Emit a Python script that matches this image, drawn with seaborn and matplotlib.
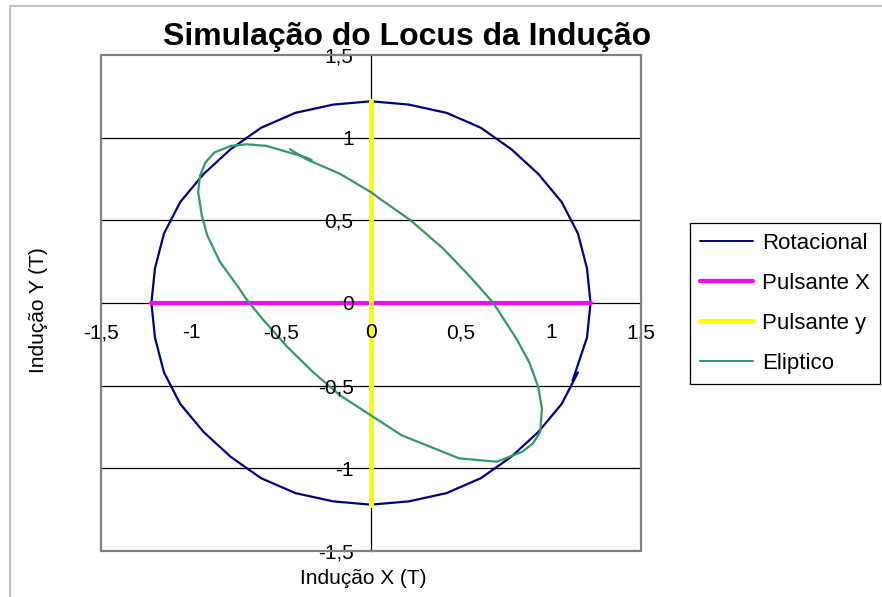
import matplotlib
matplotlib.use("Agg")
import matplotlib.pyplot as plt
import seaborn as sns
from matplotlib.ticker import FuncFormatter
from matplotlib.lines import Line2D
from matplotlib.patches import Rectangle

# Rotacional: circular locus (~10 degree steps)
rot_x = [1.12, 1.20, 1.22, 1.20, 1.15, 1.06, 0.93, 0.78, 0.61, 0.42, 0.21, 0.00,
         -0.21, -0.42, -0.61, -0.78, -0.93, -1.06, -1.15, -1.20, -1.22, -1.20, -1.15,
         -1.06, -0.93, -0.78, -0.61, -0.42, -0.21, 0.00, 0.21, 0.42, 0.61, 0.78,
         0.93, 1.06, 1.15]
rot_y = [-0.47, -0.21, 0.00, 0.21, 0.42, 0.61, 0.78, 0.93, 1.06, 1.15, 1.20, 1.22,
         1.20, 1.15, 1.06, 0.93, 0.78, 0.61, 0.42, 0.21, 0.00, -0.21, -0.42,
         -0.61, -0.78, -0.93, -1.06, -1.15, -1.20, -1.22, -1.20, -1.15, -1.06, -0.93,
         -0.78, -0.61, -0.42]

# Pulsante X / Pulsante y
pulx_x = [-1.22, 1.22]
pulx_y = [0.0, 0.0]
puly_x = [0.0, 0.0]
puly_y = [-1.22, 1.22]

# Eliptico
eli_x = [-0.45, -0.36, -0.17, 0.00, 0.05, 0.22, 0.40, 0.55, 0.68, 0.81, 0.88, 0.93,
         0.95, 0.94, 0.90, 0.84, 0.77, 0.70, 0.49, 0.33, 0.17, 0.00, -0.17,
         -0.32, -0.47, -0.60, -0.69, -0.74, -0.84, -0.91, -0.94, -0.96, -0.95, -0.92,
         -0.87, -0.78, -0.69, -0.58, -0.36, -0.33]
eli_y = [0.93, 0.87, 0.78, 0.67, 0.63, 0.50, 0.33, 0.16, 0.00, -0.22, -0.36, -0.51,
         -0.64, -0.78, -0.85, -0.90, -0.93, -0.96, -0.94, -0.87, -0.80, -0.68,
         -0.56, -0.42, -0.26, -0.10, 0.02, 0.10, 0.25, 0.41, 0.53, 0.67, 0.77, 0.85,
         0.91, 0.95, 0.96, 0.95, 0.88, 0.865]

ticks = [-1.5, -1.0, -0.5, 0.0, 0.5, 1.0, 1.5]
grid_y = [-1.0, -0.5, 0.5, 1.0]

sns.set_style("white")
plt.rcParams['font.family'] = ['Liberation Sans', 'DejaVu Sans']
plt.rcParams['text.color'] = 'black'

fig = plt.figure(figsize=(8.82, 5.97), dpi=100)
ax = fig.add_axes([0.1145, 0.0771, 0.6122, 0.8308])

for g in grid_y:
    ax.axhline(g, color='black', lw=0.9, zorder=1)

sns.lineplot(x=rot_x, y=rot_y, sort=False, estimator=None, color='#000080',
             lw=1.6, ax=ax, zorder=3)
sns.lineplot(x=pulx_x, y=pulx_y, sort=False, estimator=None, color='#FF00FF',
             lw=3.0, ax=ax, zorder=3)
sns.lineplot(x=puly_x, y=puly_y, sort=False, estimator=None, color='#FFFF00',
             lw=3.6, ax=ax, zorder=3)
sns.lineplot(x=eli_x, y=eli_y, sort=False, estimator=None, color='#339966',
             lw=1.6, ax=ax, zorder=3)

ax.set_xlim(-1.5, 1.5)
ax.set_ylim(-1.5, 1.5)
ax.set_xticks(ticks)
ax.set_yticks(ticks)
fmt = FuncFormatter(lambda v, p: f"{v:g}".replace('.', ','))
ax.xaxis.set_major_formatter(fmt)
ax.yaxis.set_major_formatter(fmt)
ax.set_xlabel("")
ax.set_ylabel("")

# axes crossing at zero
ax.spines['left'].set_position(('data', 0))
ax.spines['bottom'].set_position(('data', 0))
for s in ['left', 'bottom']:
    ax.spines[s].set_color('black')
    ax.spines[s].set_linewidth(0.9)
    ax.spines[s].set_zorder(2)
ax.spines['top'].set_visible(False)
ax.spines['right'].set_visible(False)
ax.tick_params(axis='both', direction='out', length=3.5, width=0.9, color='black',
               labelsize=15, labelcolor='black')
ax.tick_params(axis='x', pad=11)
ax.tick_params(axis='y', pad=9)
ax.xaxis.set_zorder(4)
ax.yaxis.set_zorder(4)

# grey plot-area border
ax.add_patch(Rectangle((0, 0), 1, 1, transform=ax.transAxes, fill=False,
                       edgecolor='#808080', lw=1.6, clip_on=False, zorder=5))

# outer chart frame (left and top edges visible)
fig.add_artist(Line2D([10 / 882, 10 / 882], [0, 1 - 6 / 597], color='#c0c0c0', lw=1.5))
fig.add_artist(Line2D([10 / 882, 1], [1 - 6 / 597, 1 - 6 / 597], color='#c0c0c0', lw=1.5))

fig.text(0.461, 0.938, "Simulação do Locus da Indução", ha='center', va='center',
         fontsize=23, fontweight='bold', color='black')
fig.text(0.4116, 0.0318, "Indução X (T)", ha='center', va='center', fontsize=15,
         color='black')
fig.text(0.0431, 0.4807, "Indução Y (T)", ha='center', va='center', fontsize=15,
         rotation=90, color='black')

handles = [Line2D([], [], color='#000080', lw=1.4),
           Line2D([], [], color='#FF00FF', lw=3.0),
           Line2D([], [], color='#FFFF00', lw=3.6),
           Line2D([], [], color='#339966', lw=1.4)]
labels = ["Rotacional", "Pulsante X", "Pulsante y", "Eliptico"]
leg = ax.legend(handles, labels, loc='upper left', bbox_to_anchor=(0.782, 0.6265),
                bbox_transform=fig.transFigure, borderaxespad=0, fontsize=16,
                frameon=True, fancybox=False, shadow=False, handlelength=2.4,
                handletextpad=0.4, labelspacing=0.85, borderpad=0.45)
leg.get_frame().set_edgecolor('black')
leg.get_frame().set_linewidth(0.9)
leg.get_frame().set_alpha(1)
for t in leg.get_texts():
    t.set_color('black')

fig.savefig("out.png", dpi=100)
